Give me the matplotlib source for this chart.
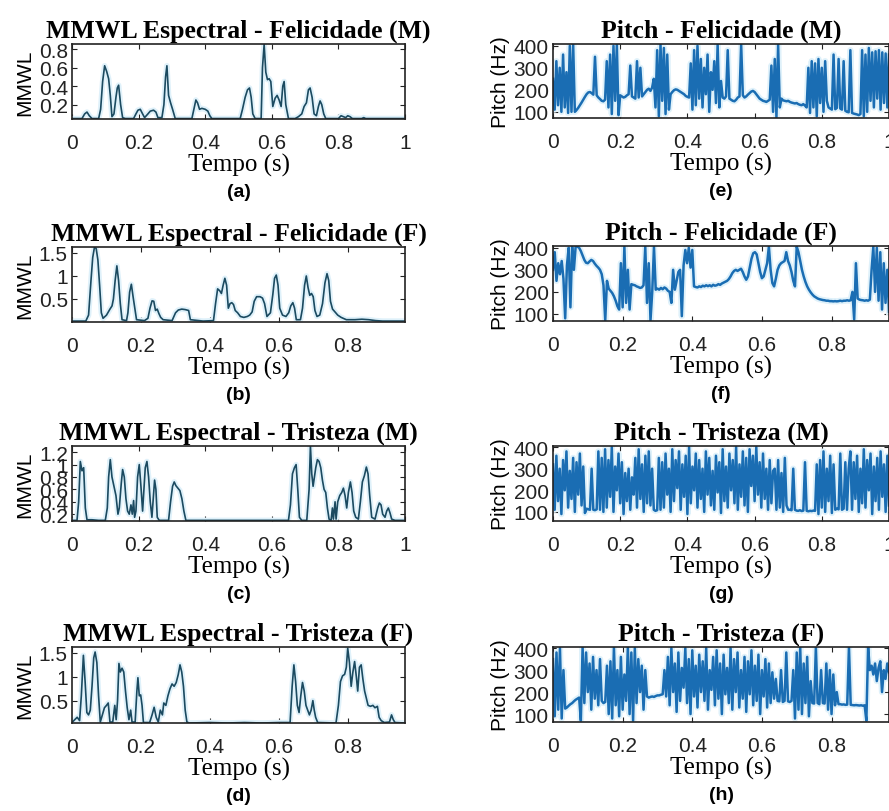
import numpy as np
import matplotlib
matplotlib.use("Agg")
import matplotlib.pyplot as plt

# ---- MMWL espectral (time in s, value) ----
t_mmwl_fel_m = [0.000, 0.030, 0.038, 0.045, 0.052, 0.060, 0.080, 0.086, 0.092, 0.098,
                0.104, 0.110, 0.115, 0.120, 0.126, 0.132, 0.136, 0.140, 0.146, 0.152,
                0.160, 0.185, 0.192, 0.198, 0.205, 0.212, 0.218, 0.228, 0.235, 0.245,
                0.252, 0.258, 0.270, 0.276, 0.281, 0.285, 0.290, 0.296, 0.302, 0.310,
                0.360, 0.366, 0.372, 0.377, 0.383, 0.390, 0.400, 0.408, 0.414, 0.420,
                0.505, 0.512, 0.520, 0.527, 0.533, 0.538, 0.543, 0.550, 0.568, 0.572,
                0.577, 0.582, 0.587, 0.592, 0.597, 0.603, 0.610, 0.616, 0.622, 0.628,
                0.633, 0.637, 0.642, 0.650, 0.670, 0.680, 0.690, 0.697, 0.704, 0.710,
                0.715, 0.721, 0.727, 0.734, 0.740, 0.745, 0.750, 0.756, 0.762, 0.770,
                0.800, 0.808, 0.815, 0.822, 0.828, 0.835, 0.842, 0.850, 0.870, 0.876,
                0.882, 0.890, 1.000]
v_mmwl_fel_m = [0.05, 0.05, 0.10, 0.12, 0.08, 0.05, 0.05, 0.15, 0.45, 0.62,
                0.56, 0.48, 0.30, 0.07, 0.10, 0.28, 0.38, 0.41, 0.20, 0.06,
                0.05, 0.05, 0.10, 0.14, 0.15, 0.10, 0.06, 0.10, 0.13, 0.14,
                0.12, 0.06, 0.06, 0.20, 0.50, 0.62, 0.30, 0.22, 0.15, 0.05,
                0.05, 0.15, 0.25, 0.22, 0.15, 0.16, 0.15, 0.13, 0.08, 0.05,
                0.05, 0.15, 0.28, 0.36, 0.38, 0.28, 0.10, 0.05, 0.05, 0.60,
                0.85, 0.55, 0.47, 0.48, 0.45, 0.18, 0.27, 0.30, 0.25, 0.18,
                0.40, 0.45, 0.20, 0.05, 0.05, 0.07, 0.10, 0.18, 0.22, 0.36,
                0.38, 0.28, 0.10, 0.08, 0.18, 0.24, 0.20, 0.10, 0.05, 0.05,
                0.05, 0.08, 0.07, 0.06, 0.08, 0.07, 0.05, 0.05, 0.05, 0.06,
                0.05, 0.05, 0.05]

t_mmwl_fel_f = [0.000, 0.040, 0.048, 0.055, 0.060, 0.065, 0.070, 0.075, 0.080, 0.085,
                0.090, 0.100, 0.110, 0.116, 0.120, 0.125, 0.130, 0.135, 0.140, 0.145,
                0.158, 0.162, 0.167, 0.172, 0.177, 0.182, 0.187, 0.210, 0.220, 0.226,
                0.232, 0.237, 0.242, 0.247, 0.252, 0.257, 0.264, 0.290, 0.300, 0.308,
                0.318, 0.328, 0.338, 0.343, 0.380, 0.410, 0.416, 0.422, 0.428, 0.433,
                0.438, 0.443, 0.448, 0.453, 0.458, 0.463, 0.468, 0.473, 0.480, 0.488,
                0.498, 0.508, 0.515, 0.522, 0.528, 0.535, 0.545, 0.552, 0.558, 0.565,
                0.575, 0.582, 0.587, 0.592, 0.597, 0.602, 0.610, 0.620, 0.628, 0.634,
                0.640, 0.645, 0.650, 0.662, 0.668, 0.674, 0.679, 0.684, 0.689, 0.694,
                0.699, 0.704, 0.710, 0.718, 0.726, 0.733, 0.739, 0.744, 0.749, 0.755,
                0.762, 0.770, 0.780, 0.795, 0.820, 0.840, 0.860, 0.880, 0.900, 0.965]
v_mmwl_fel_f = [0.02, 0.02, 0.15, 0.90, 1.40, 1.62, 1.60, 1.35, 0.80, 0.20,
                0.08, 0.15, 0.28, 0.35, 0.50, 0.90, 1.22, 0.90, 0.40, 0.05,
                0.03, 0.20, 0.65, 0.82, 0.55, 0.30, 0.05, 0.03, 0.08, 0.30,
                0.46, 0.45, 0.25, 0.28, 0.18, 0.10, 0.05, 0.03, 0.20, 0.26,
                0.28, 0.27, 0.25, 0.05, 0.02, 0.03, 0.40, 0.72, 0.68, 0.62,
                0.80, 0.95, 0.80, 0.30, 0.40, 0.42, 0.38, 0.25, 0.20, 0.12,
                0.10, 0.12, 0.15, 0.22, 0.45, 0.55, 0.55, 0.52, 0.40, 0.12,
                0.20, 0.60, 0.95, 1.02, 0.80, 0.30, 0.15, 0.12, 0.20, 0.35,
                0.42, 0.30, 0.05, 0.05, 0.30, 0.80, 1.00, 0.75, 0.58, 0.62,
                0.55, 0.25, 0.12, 0.15, 0.40, 0.85, 1.05, 0.90, 0.45, 0.28,
                0.22, 0.15, 0.10, 0.05, 0.05, 0.06, 0.05, 0.03, 0.02, 0.02]

t_mmwl_tri_m = [0.000, 0.015, 0.020, 0.025, 0.030, 0.035, 0.040, 0.045, 0.060, 0.080,
                0.100, 0.106, 0.110, 0.115, 0.120, 0.126, 0.132, 0.138, 0.142, 0.148,
                0.152, 0.157, 0.162, 0.167, 0.172, 0.177, 0.181, 0.185, 0.188, 0.192,
                0.197, 0.202, 0.207, 0.212, 0.216, 0.220, 0.225, 0.230, 0.235, 0.240,
                0.244, 0.248, 0.252, 0.256, 0.262, 0.290, 0.296, 0.302, 0.307, 0.312,
                0.318, 0.324, 0.330, 0.336, 0.342, 0.400, 0.500, 0.600, 0.650, 0.656,
                0.662, 0.668, 0.673, 0.678, 0.683, 0.690, 0.705, 0.712, 0.716, 0.720,
                0.724, 0.728, 0.732, 0.737, 0.742, 0.747, 0.752, 0.757, 0.762, 0.767,
                0.772, 0.778, 0.782, 0.785, 0.790, 0.793, 0.798, 0.804, 0.810, 0.815,
                0.820, 0.825, 0.830, 0.836, 0.841, 0.846, 0.852, 0.860, 0.866, 0.872,
                0.878, 0.884, 0.889, 0.894, 0.900, 0.910, 0.918, 0.923, 0.928, 0.933,
                0.940, 0.945, 0.950, 0.955, 0.960, 0.970, 1.000]
v_mmwl_tri_m = [0.10, 0.10, 0.40, 1.05, 0.90, 0.95, 0.30, 0.11, 0.11, 0.10,
                0.10, 0.30, 0.80, 1.08, 0.80, 0.65, 0.50, 0.20, 0.30, 0.70,
                0.92, 0.80, 0.45, 0.25, 0.20, 0.35, 0.20, 0.42, 0.15, 0.25,
                0.80, 1.00, 0.65, 0.25, 0.60, 0.95, 1.05, 0.80, 0.40, 0.15,
                0.45, 0.75, 0.60, 0.15, 0.10, 0.10, 0.40, 0.65, 0.72, 0.66,
                0.62, 0.58, 0.45, 0.25, 0.10, 0.10, 0.10, 0.10, 0.10, 0.35,
                0.85, 0.95, 1.00, 0.60, 0.15, 0.10, 0.10, 0.60, 1.30, 0.85,
                0.65, 0.80, 0.95, 1.08, 1.05, 0.95, 0.75, 0.60, 0.55, 0.30,
                0.12, 0.10, 0.30, 0.12, 0.40, 0.12, 0.40, 0.50, 0.55, 0.62,
                0.50, 0.30, 0.55, 0.72, 0.55, 0.25, 0.15, 0.12, 0.40, 0.72,
                0.82, 0.96, 0.85, 0.50, 0.15, 0.12, 0.30, 0.38, 0.35, 0.20,
                0.15, 0.25, 0.30, 0.22, 0.12, 0.10, 0.10]

t_mmwl_tri_f = [0.000, 0.008, 0.015, 0.022, 0.027, 0.033, 0.038, 0.043, 0.048, 0.053,
                0.058, 0.063, 0.067, 0.072, 0.077, 0.082, 0.088, 0.094, 0.100, 0.105,
                0.110, 0.118, 0.124, 0.128, 0.132, 0.136, 0.140, 0.145, 0.150, 0.155,
                0.160, 0.165, 0.170, 0.174, 0.183, 0.188, 0.191, 0.195, 0.199, 0.203,
                0.207, 0.225, 0.232, 0.238, 0.244, 0.250, 0.256, 0.262, 0.266, 0.272,
                0.278, 0.284, 0.290, 0.296, 0.302, 0.308, 0.313, 0.318, 0.323, 0.328,
                0.333, 0.340, 0.400, 0.450, 0.500, 0.550, 0.600, 0.632, 0.638, 0.643,
                0.648, 0.653, 0.658, 0.663, 0.668, 0.673, 0.678, 0.683, 0.688, 0.693,
                0.698, 0.702, 0.706, 0.712, 0.765, 0.772, 0.778, 0.784, 0.790, 0.795,
                0.799, 0.804, 0.809, 0.814, 0.819, 0.824, 0.828, 0.833, 0.838, 0.843,
                0.848, 0.853, 0.858, 0.865, 0.872, 0.878, 0.885, 0.890, 0.896, 0.905,
                0.920, 0.926, 0.931, 0.936, 0.965]
v_mmwl_tri_f = [0.04, 0.10, 0.15, 0.08, 0.60, 1.45, 0.90, 0.25, 0.20, 0.30,
                0.80, 1.40, 1.52, 1.30, 0.60, 0.05, 0.20, 0.35, 0.40, 0.45,
                0.05, 0.05, 0.40, 0.10, 0.50, 1.28, 1.10, 1.18, 1.10, 0.70,
                0.35, 0.10, 0.30, 0.05, 0.05, 0.70, 0.98, 0.60, 0.62, 0.40,
                0.04, 0.04, 0.20, 0.36, 0.15, 0.05, 0.30, 0.20, 0.45, 0.40,
                0.60, 0.75, 0.85, 0.80, 0.88, 1.05, 1.25, 1.10, 0.80, 0.30,
                0.05, 0.03, 0.04, 0.03, 0.04, 0.03, 0.04, 0.04, 0.80, 1.25,
                0.90, 0.40, 0.25, 0.60, 0.88, 0.70, 0.40, 0.30, 0.20, 0.30,
                0.50, 0.30, 0.15, 0.04, 0.03, 0.40, 0.90, 1.02, 1.05, 1.20,
                1.60, 1.30, 0.80, 1.10, 1.32, 1.00, 0.70, 1.20, 1.25, 0.95,
                0.70, 0.55, 0.40, 0.38, 0.40, 0.35, 0.38, 0.15, 0.08, 0.04,
                0.05, 0.20, 0.10, 0.04, 0.03]

# ---- Pitch tracks (Hz), one value every 5 ms ----
dt_pitch = 0.005

pitch_fel_m = [250, 110, 330, 130, 300, 100, 360, 120, 280, 95,
               400, 100, 405, 100, 108, 118, 130, 142, 155, 168,
               180, 188, 190, 185, 178, 350, 175, 165, 158, 150,
               148, 155, 330, 120, 360, 90, 400, 150, 405, 85,
               175, 170, 165, 168, 175, 180, 310, 170, 165, 160,
               330, 165, 300, 170, 180, 190, 200, 205, 195, 210,
               250, 120, 380, 80, 405, 150, 390, 90, 360, 110,
               180, 190, 198, 202, 200, 195, 190, 185, 180, 172,
               168, 165, 320, 110, 380, 130, 400, 160, 340, 120,
               300, 180, 360, 100, 280, 200, 330, 140, 405, 120,
               240, 165, 160, 170, 380, 160, 155, 150, 148, 155,
               165, 170, 405, 175, 165, 170, 178, 185, 192, 195,
               190, 180, 170, 160, 155, 150, 148, 145, 150, 155,
               310, 100, 340, 75, 405, 120, 160, 152, 150, 148,
               150, 145, 142, 140, 138, 140, 135, 132, 130, 135,
               128, 120, 300, 95, 330, 120, 320, 80, 340, 140,
               300, 100, 330, 150, 120, 115, 110, 360, 112, 118,
               340, 115, 110, 330, 105, 100, 98, 380, 95, 92,
               90, 88, 85, 90, 380, 80, 360, 100, 390, 150,
               370, 120, 375, 160, 380, 110, 370, 140, 365, 120,
               360]

pitch_fel_f = [300, 380, 250, 330, 280, 340, 260, 80, 320, 400,
               130, 405, 300, 405, 405, 400, 385, 365, 345, 332,
               330, 338, 345, 340, 328, 318, 310, 300, 280, 230,
               70, 250, 215, 205, 195, 180, 160, 135, 120, 330,
               130, 405, 150, 300, 120, 235, 232, 230, 225, 222,
               218, 220, 230, 405, 150, 330, 70, 200, 405, 210,
               215, 210, 218, 212, 220, 215, 205, 200, 150, 300,
               210, 250, 290, 300, 90, 320, 390, 330, 400, 310,
               390, 225, 222, 220, 225, 222, 228, 225, 230, 226,
               230, 225, 232, 228, 230, 235, 232, 238, 242, 246,
               250, 258, 270, 285, 295, 300, 295, 300, 305, 290,
               270, 255, 270, 310, 350, 375, 380, 370, 330, 290,
               262, 270, 300, 330, 405, 300, 240, 225, 260, 300,
               320, 330, 335, 340, 380, 340, 320, 290, 250, 225,
               405, 380, 340, 300, 270, 245, 225, 210, 198, 188,
               180, 175, 170, 167, 165, 163, 162, 160, 160, 158,
               158, 157, 158, 157, 158, 160, 158, 160, 160, 162,
               160, 162, 200, 75, 330, 170, 165, 163, 162, 160,
               162, 160, 165, 300, 405, 200, 400, 160, 380, 120,
               330, 150, 300, 110]

pitch_tri_m = [320, 110, 360, 150, 300, 90, 340, 200, 380, 120,
               290, 160, 350, 100, 330, 180, 370, 130, 310, 95,
               115, 112, 110, 300, 110, 108, 112, 380, 110, 350,
               100, 390, 120, 340, 170, 400, 100, 310, 200, 370,
               140, 330, 90, 280, 150, 300, 110, 260, 180, 350,
               120, 390, 160, 320, 100, 360, 140, 380, 130, 300,
               110, 105, 108, 350, 110, 330, 120, 370, 180, 300,
               100, 390, 150, 340, 210, 380, 110, 320, 170, 360,
               90, 400, 140, 310, 200, 370, 120, 340, 160, 300,
               100, 380, 180, 350, 130, 290, 110, 360, 190, 330,
               95, 390, 150, 310, 120, 370, 200, 340, 140, 400,
               110, 320, 170, 380, 130, 350, 100, 390, 220, 360,
               150, 400, 180, 330, 120, 370, 160, 300, 110, 340,
               140, 290, 300, 110, 340, 120, 280, 100, 350, 130,
               110, 110, 108, 300, 110, 106, 105, 108, 104, 106,
               330, 105, 103, 105, 104, 106, 105, 320, 90, 340,
               120, 380, 100, 300, 150, 360, 95, 320, 110, 115,
               112, 370, 110, 115, 330, 110, 300, 380, 110, 330,
               160, 360, 100, 300, 140, 390, 120, 340, 200, 370,
               90, 310, 150, 350, 110, 380, 170, 320, 100, 360,
               130]

pitch_tri_f = [350, 90, 380, 120, 400, 80, 300, 125, 130, 138,
               145, 150, 158, 165, 170, 175, 70, 405, 150, 380,
               200, 330, 120, 360, 170, 300, 140, 350, 160, 150,
               155, 320, 100, 340, 80, 405, 140, 300, 90, 360,
               120, 280, 160, 405, 100, 380, 70, 400, 150, 350,
               200, 320, 120, 300, 180, 175, 178, 180, 178, 182,
               185, 185, 188, 190, 300, 180, 360, 140, 400, 200,
               330, 110, 380, 160, 310, 220, 400, 150, 350, 100,
               390, 180, 320, 130, 370, 200, 340, 160, 400, 120,
               300, 210, 360, 140, 390, 170, 330, 100, 370, 190,
               310, 150, 400, 120, 350, 200, 380, 130, 300, 170,
               360, 110, 340, 190, 390, 140, 320, 160, 370, 100,
               300, 180, 350, 130, 330, 150, 290, 170, 260, 160,
               158, 300, 155, 160, 380, 158, 155, 160, 300, 80,
               380, 120, 405, 100, 330, 150, 360, 90, 250, 150,
               148, 405, 150, 145, 300, 150, 148, 330, 120, 300,
               100, 280, 140, 200, 145, 145, 143, 144, 142, 143,
               405, 142, 141, 140, 141, 140, 139, 140, 138, 140,
               70, 405, 300, 320, 280, 330, 250, 310, 340, 200,
               300, 260, 330, 290]

titles = ["MMWL Espectral - Felicidade (M)", "Pitch - Felicidade (M)",
          "MMWL Espectral - Felicidade (F)", "Pitch - Felicidade (F)",
          "MMWL Espectral - Tristeza (M)", "Pitch - Tristeza (M)",
          "MMWL Espectral - Tristeza (F)", "Pitch - Tristeza (F)"]
letters = ["(a)", "(e)", "(b)", "(f)", "(c)", "(g)", "(d)", "(h)"]

W, H = 889, 812
serif = "Liberation Serif"
sans = "Liberation Sans"
mmwl_color = "#1b4a60"
pitch_color = "#1a6db3"
halo_color = "#dff1fa"


def px_axes(fig, left, top, right, bottom):
    return fig.add_axes([left / W, 1 - bottom / H, (right - left) / W, (bottom - top) / H])


fig = plt.figure(figsize=(W / 100, H / 100), dpi=100)

# pixel boxes of the eight panels, row by row
boxes = [(72, 45, 405, 120), (553, 45, 889, 119),
         (72, 248, 405, 323), (553, 247, 889, 322),
         (72, 447, 405, 522), (553, 447, 889, 522),
         (72, 648, 405, 724), (553, 648, 889, 723)]

series = [(t_mmwl_fel_m, v_mmwl_fel_m), pitch_fel_m,
          (t_mmwl_fel_f, v_mmwl_fel_f), pitch_fel_f,
          (t_mmwl_tri_m, v_mmwl_tri_m), pitch_tri_m,
          (t_mmwl_tri_f, v_mmwl_tri_f), pitch_tri_f]

xmax = [1.0, 1.0, 0.965, 0.965, 1.0, 1.0, 0.965, 0.965]
ylims = [(0.045, 0.855), (72, 408), (0.0, 1.63), (68, 408),
         (0.09, 1.30), (58, 405), (0.03, 1.625), (64, 405)]
yticks = [[0.2, 0.4, 0.6, 0.8], [100, 200, 300, 400],
          [0.5, 1, 1.5], [100, 200, 300, 400],
          [0.2, 0.4, 0.6, 0.8, 1, 1.2], [100, 200, 300, 400],
          [0.5, 1, 1.5], [100, 200, 300, 400]]

for k in range(8):
    ax = px_axes(fig, *boxes[k])
    if k % 2 == 0:
        t, v = series[k]
        ax.plot(t, v, color=halo_color, lw=4, solid_joinstyle="round")
        ax.plot(t, v, color=mmwl_color, lw=1.2)
        ax.set_ylabel("MMWL", fontfamily=sans, fontsize=15, labelpad=3)
    else:
        p = series[k]
        t = np.arange(len(p)) * dt_pitch
        ax.plot(t, p, color=halo_color, lw=4.5, solid_joinstyle="round")
        ax.plot(t, p, color=pitch_color, lw=1.8)
        ax.set_ylabel("Pitch (Hz)", fontfamily=sans, fontsize=15, labelpad=3)

    ax.set_xlim(0, xmax[k])
    ax.set_ylim(*ylims[k])
    xt = [x for x in [0, 0.2, 0.4, 0.6, 0.8, 1.0] if x <= xmax[k]]
    ax.set_xticks(xt)
    ax.set_xticklabels(["%g" % x for x in xt])
    ax.set_yticks(yticks[k])
    ax.set_yticklabels(["%g" % y for y in yticks[k]])
    ax.tick_params(direction="in", top=True, right=True, length=3.5, width=0.8,
                   labelsize=15, colors="#222222")
    ax.tick_params(axis="x", pad=10)
    ax.tick_params(axis="y", pad=3)
    for lab in ax.get_xticklabels() + ax.get_yticklabels():
        lab.set_fontfamily(sans)
    for s in ax.spines.values():
        s.set_linewidth(1.2)
        s.set_color("#222222")

    ax.set_title(titles[k], fontfamily=serif, fontweight="bold", fontsize=18.5, pad=5)
    ax.set_xlabel("Tempo (s)", fontfamily=serif, fontsize=18, labelpad=1)
    ax.annotate(letters[k], xy=(0.5, 0), xycoords="axes fraction",
                xytext=(0, -46), textcoords="offset points",
                ha="center", va="top", fontfamily=sans, fontweight="bold", fontsize=14)

fig.savefig("out.png", dpi=100)
